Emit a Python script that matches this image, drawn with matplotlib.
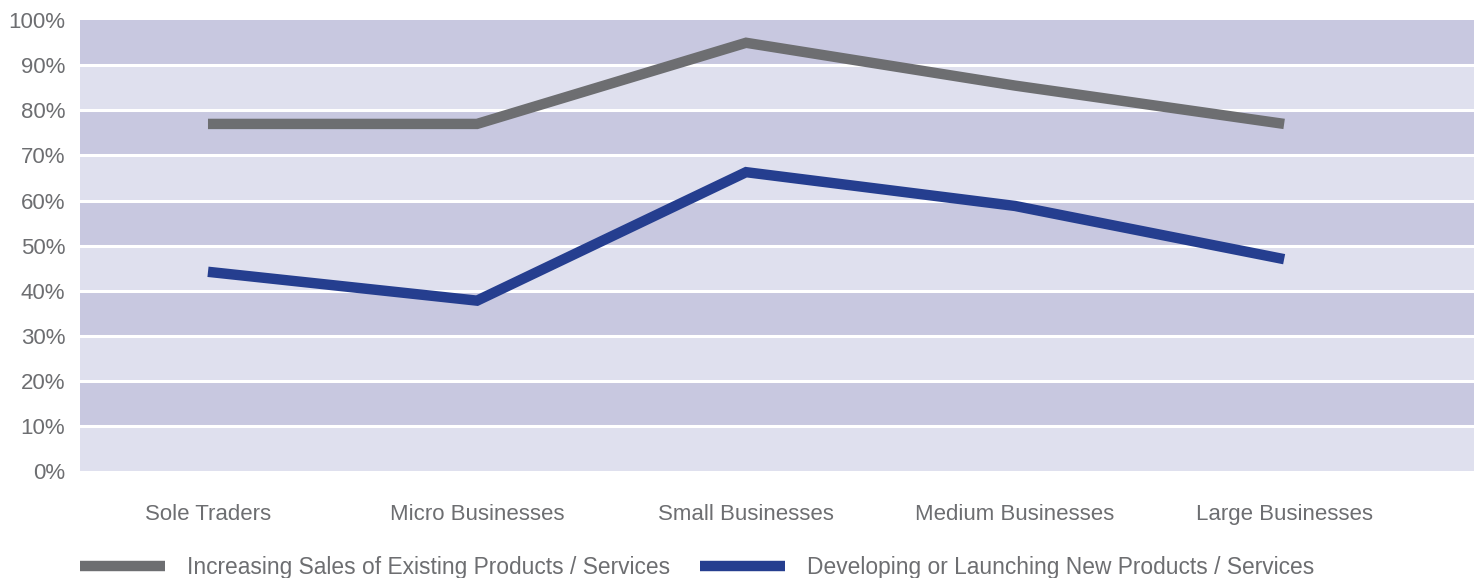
import numpy as np
import matplotlib.pyplot as plt

plt.rcParams['font.family'] = ['Liberation Sans', 'DejaVu Sans']

categories = ["Sole Traders", "Micro Businesses", "Small Businesses", "Medium Businesses", "Large Businesses"]
existing = [77, 77, 95, 85.5, 77]
new_products = [44.2, 37.8, 66.3, 58.8, 47]
series_names = ["Increasing Sales of Existing Products / Services",
                "Developing or Launching New Products / Services"]
yticks = list(range(0, 101, 10))

txt = '#6d6e71'
fig = plt.figure(figsize=(14.8, 5.78), dpi=100)
ax = fig.add_axes([0.054, 0.185, 0.942, 0.780])

#==== striped background ====#
for i in range(10):
    col = '#dfe0ee' if i % 2 == 0 else '#c8c8e0'
    ax.axhspan(i * 10, i * 10 + 10, color=col, lw=0, zorder=0)
for y in yticks[1:-1]:
    ax.axhline(y, color='white', lw=2.2, zorder=1)

x = np.arange(len(categories))
ax.plot(x, existing, color='#6d6e71', lw=7.5, solid_capstyle='butt', solid_joinstyle='miter',
        label=series_names[0], zorder=3)
ax.plot(x, new_products, color='#253e8f', lw=7.5, solid_capstyle='butt', solid_joinstyle='miter',
        label=series_names[1], zorder=3)

ax.set_xlim(-0.476, 4.706)
ax.set_ylim(0, 100)
ax.set_yticks(yticks)
ax.set_yticklabels([f"{v}%" for v in yticks])
ax.set_xticks(x)
ax.set_xticklabels(categories)
ax.tick_params(axis='both', length=0, labelsize=16, colors=txt)
ax.tick_params(axis='y', pad=10.5)
ax.tick_params(axis='x', pad=23.5)
for s in ax.spines.values():
    s.set_visible(False)

fig.legend(loc='center left', bbox_to_anchor=(0.054, 0.019), ncol=2, frameon=False,
           fontsize=16.4, labelcolor=txt, handlelength=3.75, handletextpad=0.95,
           columnspacing=1.3, borderpad=0, borderaxespad=0)

fig.savefig("out.png", dpi=100)
